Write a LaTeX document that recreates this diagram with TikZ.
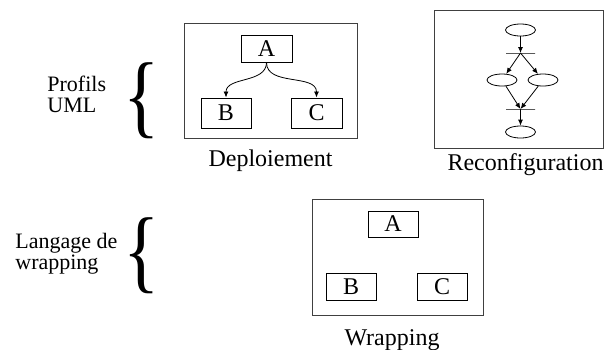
\documentclass[tikz,border=0pt]{standalone}
\usepackage{fontspec}
\setmainfont{Liberation Serif}
\usetikzlibrary{arrows.meta,shapes.geometric}

\begin{document}
\begin{tikzpicture}[x=0.5pt,y=-0.5pt]
\begin{scope}

\tikzstyle{frame} = [draw=black!75,line width=0.5pt,inner sep=0pt];
\tikzstyle{box} = [draw,line width=0.5pt,inner sep=0pt,font=\fontsize{12}{14}\selectfont];
\tikzstyle{etat} = [ellipse,draw,line width=0.4pt,minimum width=15pt,minimum height=6pt,inner sep=0pt];
\tikzstyle{barre} = [draw,line width=0.5pt,minimum width=14.5pt,minimum height=0pt,inner sep=0pt];
\tikzstyle{titre} = [inner sep=0pt,font=\fontsize{12}{14}\selectfont];
\tikzstyle{cote} = [inner sep=0pt,align=left,anchor=west,font=\fontsize{11}{10.5}\selectfont];
\tikzstyle{accolade} = [inner sep=0pt,font=\fontsize{46}{46}\selectfont];
\tikzstyle{fleche} = [-{Latex[length=3pt,width=2.5pt]},line width=0.4pt];

\useasboundingbox (0,0) rectangle (605,349);

% profils UML
\node [cote] (p1) at (47,94.5) {Profils\\UML};
\node [accolade] (a1) at (141.5,101) {\scalebox{0.82}[1]{\{}};

\node [frame,minimum width=86.5pt,minimum height=57.5pt] (d0) at (270.5,80.5) {};
\node [box,minimum width=25.5pt,minimum height=13.5pt] (d1) at (266.5,48.5) {A};
\node [box,minimum width=25pt,minimum height=15pt] (d2) at (226,113) {B};
\node [box,minimum width=25.5pt,minimum height=15pt] (d3) at (316.5,113) {C};
\node [titre] (t1) at ([yshift=-11pt]d0.south) {Deploiement};

\draw [fleche] (d1.south) to [out=-90,in=90] (d2.north);
\draw [fleche] (d1.south) to [out=-90,in=90] (d3.north);

\node [frame,minimum width=84.5pt,minimum height=69pt] (r0) at (518.5,79) {};
\node [etat] (r1) at (520.5,30) {};
\node [barre] (r2) at (520.5,53) {};
\node [etat] (r3) at (502,80) {};
\node [etat] (r4) at (543,80) {};
\node [barre] (r5) at (520.5,109) {};
\node [etat] (r6) at (520.5,132) {};
\node [titre] (t2) at ([xshift=3.5pt,yshift=-8pt]r0.south) {Reconfiguration};

\draw [fleche] (r1) -- (r2.center);
\draw [fleche] (r2.center) -- (r3);
\draw [fleche] (r2.center) -- (r4);
\draw [fleche] (r3) -- (r5.center);
\draw [fleche] (r4) -- (r5.center);
\draw [fleche] (r5.center) -- (r6);

% langage de wrapping
\node [cote] (p2) at (15,253.5) {Langage de\\wrapping};
\node [accolade] (a2) at (141.5,255.5) {\scalebox{0.82}[1]{\{}};

\node [frame,minimum width=85.5pt,minimum height=58pt] (w0) at (397.5,257) {};
\node [box,minimum width=25pt,minimum height=13pt] (w1) at (393,224) {A};
\node [box,minimum width=25pt,minimum height=13.5pt] (w2) at (351,286.5) {B};
\node [box,minimum width=25pt,minimum height=13.5pt] (w3) at (442,286.5) {C};
\node [titre] (t3) at ([xshift=-2.75pt,yshift=-12.5pt]w0.south) {Wrapping};

\end{scope}
\end{tikzpicture}
\end{document}
